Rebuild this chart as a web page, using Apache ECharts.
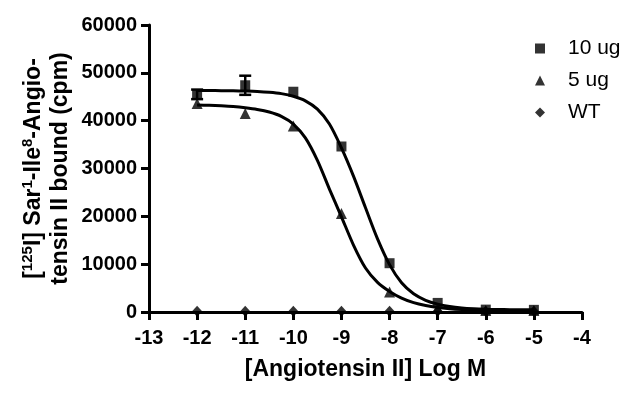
<!DOCTYPE html>
<html>
<head>
<meta charset="utf-8">
<script src="https://cdn.jsdelivr.net/npm/echarts@6/dist/echarts.min.js"></script>
<style>
html,body{margin:0;padding:0;background:#fff;}
#chart{width:640px;height:394px;}
</style>
</head>
<body>
<div id="chart"></div>
<script>
// ---- data ----
const logConc   = [-12, -11, -10, -9, -8, -7, -6, -5];
const bound10ug = [45500, 47400, 46050, 34600, 10200, 1900, 500, 450];
const sem10ug   = [1000, 2000, 0, 0, 0, 0, 0, 0];
const bound5ug  = [43600, 41500, 38900, 20600, 4200, 800, 300, 300];
const boundWT   = [150, 150, 150, 150, 150, 150, 150, 150];

// fitted curves, every 0.25 log unit
const fitX  = [-12, -11.75, -11.5, -11.25, -11, -10.75, -10.5, -10.25, -10, -9.75, -9.5, -9.25, -9, -8.75, -8.5, -8.25, -8, -7.75, -7.5, -7.25, -7, -6.75, -6.5, -6.25, -6, -5.75, -5.5, -5.25, -5];
const fit10 = [46300, 46300, 46280, 46250, 46200, 46120, 45950, 45650, 45100, 44150, 42400, 39300, 34300, 28400, 21800, 15300, 9900, 6100, 3800, 2450, 1650, 1150, 850, 680, 580, 520, 490, 470, 460];
const fit5  = [43250, 43200, 43100, 42950, 42700, 42350, 41800, 40900, 39300, 36400, 31700, 25700, 19900, 14000, 9200, 6200, 4300, 2900, 1950, 1350, 950, 700, 540, 440, 380, 340, 320, 310, 300];

const seriesNames = ['10 ug', '5 ug', 'WT'];
const xTicks = {min: -13, max: -4, step: 1};
const yTicks = {min: 0, max: 60000, step: 10000};

const FONT = 'Liberation Sans, Arial, sans-serif';
const pair = (xs, ys) => xs.map((x, i) => [x, ys[i]]);

const chart = echarts.init(document.getElementById('chart'), null, {renderer: 'canvas'});

const option = {
  backgroundColor: '#fff',
  animation: false,
  grid: {left: 149, right: 58, top: 25, bottom: 82, containLabel: false},
  legend: {
    orient: 'vertical',
    left: 530,
    top: 33,
    itemWidth: 10,
    itemHeight: 10,
    itemGap: 11,
    textStyle: {fontFamily: FONT, fontSize: 21, color: '#000', padding: [0, 0, 0, 18]},
    data: [
      {name: seriesNames[0], icon: 'rect'},
      {name: seriesNames[1], icon: 'triangle'},
      {name: seriesNames[2], icon: 'diamond'}
    ]
  },
  xAxis: {
    type: 'value',
    min: xTicks.min, max: xTicks.max, interval: xTicks.step,
    name: '[Angiotensin II] Log M',
    nameLocation: 'middle',
    nameGap: 46,
    nameTextStyle: {fontFamily: FONT, fontSize: 23, fontWeight: 'bold', color: '#000'},
    axisLine: {onZero: false, lineStyle: {color: '#000', width: 3}},
    axisTick: {show: true, inside: false, length: 8, lineStyle: {color: '#000', width: 3}},
    axisLabel: {margin: 16, fontFamily: FONT, fontSize: 20, fontWeight: 'bold', color: '#000'},
    splitLine: {show: false}
  },
  yAxis: {
    type: 'value',
    min: yTicks.min, max: yTicks.max, interval: yTicks.step,
    name: '{b|[}{s|125}{b|I] Sar}{s|1}{b|-Ile}{s|8}{b|-Angio-}\n{b|tensin II bound (cpm)}',
    nameLocation: 'middle',
    nameRotate: 90,
    nameGap: 75,
    nameMoveOverlap: false,
    nameTextStyle: {
      fontFamily: FONT, fontSize: 23, fontWeight: 'bold', color: '#000', lineHeight: 27,
      rich: {
        b: {fontFamily: FONT, fontSize: 23, fontWeight: 'bold', color: '#000', lineHeight: 27},
        s: {fontFamily: FONT, fontSize: 15, fontWeight: 'bold', color: '#000', verticalAlign: 'top', lineHeight: 14}
      }
    },
    axisLine: {show: true, lineStyle: {color: '#000', width: 3}},
    axisTick: {show: true, inside: false, length: 8, lineStyle: {color: '#000', width: 3}},
    axisLabel: {margin: 12, fontFamily: FONT, fontSize: 20, fontWeight: 'bold', color: '#000', formatter: v => String(v)},
    splitLine: {show: false}
  },
  series: [
    {
      type: 'line', data: pair(fitX, fit10), showSymbol: false, symbol: 'none',
      smooth: 0.3,
      lineStyle: {color: '#000', width: 3}, z: 2, silent: true
    },
    {
      type: 'line', data: pair(fitX, fit5), showSymbol: false, symbol: 'none',
      smooth: 0.3,
      lineStyle: {color: '#000', width: 3}, z: 2, silent: true
    },
    {
      type: 'custom',
      data: logConc.map((x, i) => [x, bound10ug[i] - sem10ug[i], bound10ug[i] + sem10ug[i]]).filter((d, i) => sem10ug[i] > 0),
      renderItem: function (params, api) {
        const lo = api.coord([api.value(0), api.value(1)]);
        const hi = api.coord([api.value(0), api.value(2)]);
        const hw = 6;
        const st = {stroke: '#000', lineWidth: 2.5};
        return {
          type: 'group',
          children: [
            {type: 'line', shape: {x1: lo[0], y1: lo[1], x2: hi[0], y2: hi[1]}, style: st},
            {type: 'line', shape: {x1: lo[0] - hw, y1: lo[1], x2: lo[0] + hw, y2: lo[1]}, style: st},
            {type: 'line', shape: {x1: hi[0] - hw, y1: hi[1], x2: hi[0] + hw, y2: hi[1]}, style: st}
          ]
        };
      },
      z: 3, silent: true
    },
    {
      name: seriesNames[2], type: 'scatter', data: pair(logConc, boundWT),
      symbol: 'diamond', symbolSize: [10, 11], itemStyle: {color: '#000'}, z: 4
    },
    {
      name: seriesNames[1], type: 'scatter', data: pair(logConc, bound5ug),
      symbol: 'triangle', symbolSize: [11, 11], itemStyle: {color: '#000'}, z: 5
    },
    {
      name: seriesNames[0], type: 'scatter', data: pair(logConc, bound10ug),
      symbol: 'rect', symbolSize: [10, 10], itemStyle: {color: '#000'}, z: 6
    }
  ]
};
chart.setOption(option);
</script>
</body>
</html>
